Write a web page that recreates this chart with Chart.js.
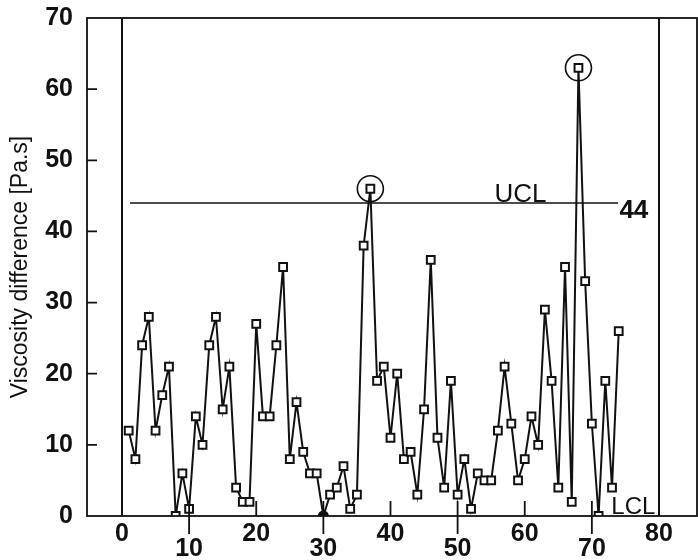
<!DOCTYPE html>
<html>
<head>
<meta charset="utf-8">
<script src="https://cdn.jsdelivr.net/npm/chart.js@4/dist/chart.umd.min.js"></script>
<style>
  html, body { margin: 0; padding: 0; background: #fff; }
  #wrap { width: 698px; height: 560px; }
</style>
</head>
<body>
<div id="wrap"><canvas id="c" width="698" height="560"></canvas></div>
<script>
/* ─── DATA ────────────────────────────────────────────── */
const sampleNo = [
   1,  2,  3,  4,  5,  6,  7,  8,  9, 10,
  11, 12, 13, 14, 15, 16, 17, 18, 19, 20,
  21, 22, 23, 24, 25, 26, 27, 28, 29, 30,
  31, 32, 33, 34, 35, 36, 37, 38, 39, 40,
  41, 42, 43, 44, 45, 46, 47, 48, 49, 50,
  51, 52, 53, 54, 55, 56, 57, 58, 59, 60,
  61, 62, 63, 64, 65, 66, 67, 68, 69, 70,
  71, 72, 73, 74,
]
const viscosityDiff = [
  12,  8, 24, 28, 12, 17, 21,  0,  6,  1,
  14, 10, 24, 28, 15, 21,  4,  2,  2, 27,
  14, 14, 24, 35,  8, 16,  9,  6,  6,  0,
   3,  4,  7,  1,  3, 38, 46, 19, 21, 11,
  20,  8,  9,  3, 15, 36, 11,  4, 19,  3,
   8,  1,  6,  5,  5, 12, 21, 13,  5,  8,
  14, 10, 29, 19,  4, 35,  2, 63, 33, 13,
   0, 19,  4, 26,
]
const flaggedNo   = [37, 68]          // circled out-of-control points
const uclValue    = 44
const uclSpan     = [1.2, 73.9]       // x extent of the UCL line
const lclValue    = 0
const xTickValues = [0, 10, 20, 30, 40, 50, 60, 70, 80]
const yTickValues = [0, 10, 20, 30, 40, 50, 60, 70]
const yTitle      = 'Viscosity difference [Pa.s]'

/* ─── STYLE ───────────────────────────────────────────── */
const INK = '#111'
const SANS = 'Arial, "Liberation Sans", sans-serif'
const TICK_FONT = { family: SANS, size: 25, weight: 'bold', lineHeight: 0.62 }

const points  = sampleNo.map((x, i) => ({ x, y: viscosityDiff[i] }))
const flagged = flaggedNo.map(n => ({ x: n, y: viscosityDiff[sampleNo.indexOf(n)] }))

// frame, inward ticks and the UCL / LCL annotations
const decorations = {
  id: 'decorations',
  afterDraw(chart) {
    const { ctx, chartArea: a, scales: { x, y } } = chart
    ctx.save()
    ctx.strokeStyle = INK
    ctx.lineWidth = 1.8
    ctx.strokeRect(a.left, a.top, a.right - a.left, a.bottom - a.top)

    ctx.beginPath()
    yTickValues.forEach(v => {
      if (v === 0 || v === 70) return
      const py = y.getPixelForValue(v)
      ctx.moveTo(a.left, py); ctx.lineTo(a.left + 10, py)
    })
    xTickValues.forEach(v => {
      if (v === 0 || v === 80) return
      const px = x.getPixelForValue(v)
      const below = (v / 10) % 2 === 1 ? 18 : 0
      ctx.moveTo(px, a.bottom - 15); ctx.lineTo(px, a.bottom + below)
    })
    ctx.stroke()

    ctx.fillStyle = INK
    ctx.textAlign = 'left'
    ctx.textBaseline = 'alphabetic'
    ctx.font = '26px ' + SANS
    ctx.fillText('UCL', x.getPixelForValue(55.5), y.getPixelForValue(uclValue) - 0.5)
    ctx.font = '24px ' + SANS
    ctx.fillText('LCL', x.getPixelForValue(72.9), y.getPixelForValue(lclValue) - 2)
    ctx.font = 'bold 26px ' + SANS
    ctx.textBaseline = 'middle'
    ctx.fillText(String(uclValue), x.getPixelForValue(74.1), y.getPixelForValue(uclValue) + 8)
    ctx.restore()
  },
}

new Chart(document.getElementById('c'), {
  type: 'line',
  data: {
    datasets: [
      {
        label: 'Viscosity difference',
        data: points,
        borderColor: INK,
        borderWidth: 2,
        pointStyle: ctx => (ctx.raw && ctx.raw.x === 30 ? 'circle' : 'rect'),
        pointRadius: ctx => (ctx.raw && ctx.raw.x === 30 ? 4.5 : 5.5),
        pointBackgroundColor: ctx => (ctx.raw && ctx.raw.x === 30 ? INK : '#fff'),
        pointBorderColor: INK,
        pointBorderWidth: 2,
        tension: 0,
        order: 1,
      },
      {
        label: 'UCL',
        data: uclSpan.map(x => ({ x, y: uclValue })),
        borderColor: INK,
        borderWidth: 1.6,
        pointRadius: 0,
        order: 2,
      },
      {
        label: 'Out of control',
        data: flagged,
        showLine: false,
        pointStyle: 'circle',
        pointRadius: 13,
        pointBackgroundColor: 'rgba(0,0,0,0)',
        pointBorderColor: INK,
        pointBorderWidth: 1.6,
        order: 0,
      },
    ],
  },
  options: {
    responsive: false,
    animation: false,
    layout: { autoPadding: false, padding: { top: 18, right: 1, left: 0, bottom: 0 } },
    plugins: { legend: { display: false }, tooltip: { enabled: false } },
    scales: {
      x: {
        type: 'linear',
        min: -5.21,
        max: 85.66,
        afterFit: s => { s.height = 44; s.paddingLeft = 0; s.paddingRight = 0 },
        afterBuildTicks: s => { s.ticks = xTickValues.map(value => ({ value })) },
        border: { display: false },
        grid: {
          drawTicks: false,
          lineWidth: 2,
          color: c => (c.tick && (c.tick.value === 0 || c.tick.value === 80) ? INK : 'rgba(0,0,0,0)'),
        },
        ticks: {
          color: INK,
          font: TICK_FONT,
          padding: 10,
          maxRotation: 0,
          autoSkip: false,
          callback: v => ((v / 10) % 2 === 1 ? ['', String(v)] : String(v)),
        },
      },
      y: {
        min: 0,
        max: 70,
        afterFit: s => { s.width = 87; s.paddingTop = 0; s.paddingBottom = 0 },
        afterBuildTicks: s => { s.ticks = yTickValues.map(value => ({ value })) },
        border: { display: false },
        grid: { display: false, drawTicks: false },
        ticks: { color: INK, font: { ...TICK_FONT, lineHeight: 1 }, padding: 14 },
        title: {
          display: true,
          text: yTitle,
          color: INK,
          font: { family: SANS, size: 23, lineHeight: 1.2 },
          padding: { top: 7, bottom: 0 },
        },
      },
    },
  },
  plugins: [decorations],
})
</script>
</body>
</html>
